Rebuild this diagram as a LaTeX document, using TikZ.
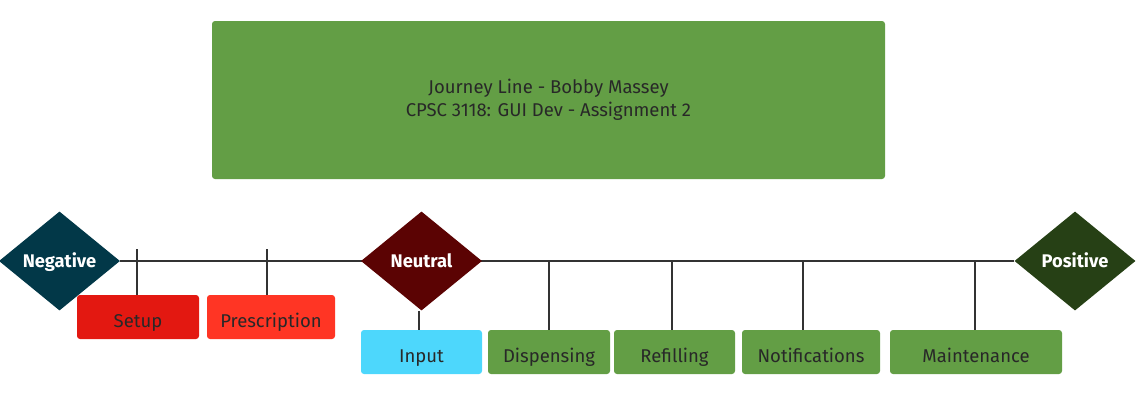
\documentclass[tikz,border=0pt]{standalone}
\usepackage{fontspec}
\setmainfont{Fira Sans}
\usetikzlibrary{shapes.geometric,backgrounds}
\definecolor{boxgreen}{RGB}{99,158,69}
\definecolor{negcol}{RGB}{2,56,72}
\definecolor{neucol}{RGB}{91,3,3}
\definecolor{poscol}{RGB}{38,64,21}
\definecolor{setupcol}{RGB}{227,24,17}
\definecolor{prescol}{RGB}{255,53,36}
\definecolor{inputcol}{RGB}{77,215,252}
\definecolor{txt}{RGB}{40,40,40}
\definecolor{linecol}{RGB}{51,51,51}
\tikzset{
  dia/.style={diamond, aspect=1.22, minimum width=121pt, minimum height=99pt, inner sep=0pt,
    text=white, font=\fontsize{18.3}{20}\selectfont\bfseries, text height=12.5pt, text depth=0pt},
  card/.style={rounded corners=3pt, inner sep=0pt, minimum height=44pt, text=txt,
    font=\fontsize{18.5}{20}\selectfont, text height=20pt, text depth=0pt},
  titlebox/.style={rounded corners=3pt, inner sep=0pt, text=txt, align=center,
    font=\fontsize{18.5}{23}\selectfont},
  conn/.style={draw=linecol, line width=1.3pt},
  mainline/.style={draw=linecol, line width=1.6pt}
}
\begin{document}
\begin{tikzpicture}[x=1pt,y=-1pt]
\useasboundingbox (0,0) rectangle (1138,413);
\node[titlebox, fill=boxgreen, minimum width=673pt, minimum height=158pt] (title) at (548.5,100)
  {Journey Line - Bobby Massey\\CPSC 3118: GUI Dev - Assignment 2};
\node[dia, fill=negcol] (neg) at (59.5,261) {Negative};
\node[dia, fill=neucol] (neu) at (421.5,261) {Neutral};
\node[dia, fill=poscol] (pos) at (1075,261) {Positive};
\node[card, fill=setupcol, minimum width=122pt] (setup) at (138,317) {Setup};
\node[card, fill=prescol, minimum width=128pt] (pres) at (271,317) {Prescription};
\node[card, fill=inputcol, minimum width=121pt] (input) at (421.5,352) {Input};
\node[card, fill=boxgreen, minimum width=122pt] (disp) at (549,352) {Dispensing};
\node[card, fill=boxgreen, minimum width=121pt] (refi) at (674.5,352) {Refilling};
\node[card, fill=boxgreen, minimum width=138pt] (noti) at (811,352) {Notifications};
\node[card, fill=boxgreen, minimum width=172pt] (main) at (976,352) {Maintenance};
\coordinate (st) at (137,249);
\coordinate (pr) at (267,249);
\coordinate (ip) at (419,311);
\coordinate (dp) at (549,261);
\coordinate (rf) at (672,261);
\coordinate (nt) at (803,261);
\coordinate (mt) at (975,261);
\begin{scope}[on background layer]
\draw[mainline] (neg.east) -- (pos.west);
\draw[conn] (st) -- (st |- setup.north);
\draw[conn] (pr) -- (pr |- pres.north);
\draw[conn] (ip) -- (ip |- input.north);
\draw[conn] (dp) -- (dp |- disp.north);
\draw[conn] (rf) -- (rf |- refi.north);
\draw[conn] (nt) -- (nt |- noti.north);
\draw[conn] (mt) -- (mt |- main.north);
\end{scope}
\end{tikzpicture}
\end{document}
